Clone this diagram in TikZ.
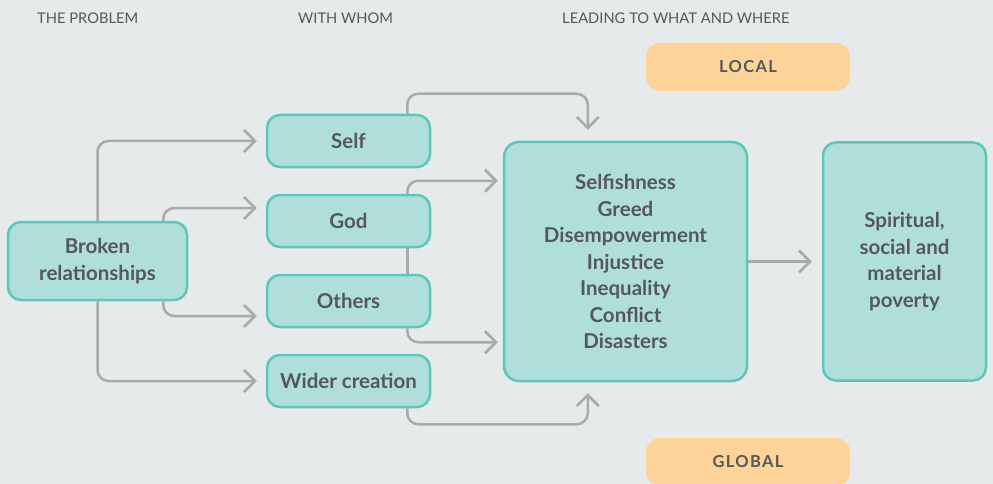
\documentclass[tikz,border=0pt]{standalone}
\usepackage{fontspec}
\setmainfont{Lato}
\usetikzlibrary{arrows.meta,backgrounds}
\definecolor{bgback}{RGB}{230,234,234}
\definecolor{boxfill}{RGB}{176,223,219}
\definecolor{boxline}{RGB}{92,198,187}
\definecolor{placefill}{RGB}{253,211,154}
\definecolor{txt}{RGB}{85,87,89}
\definecolor{linkgray}{RGB}{170,170,170}

\begin{document}
\begin{tikzpicture}[x=1pt,y=-1pt,
  box/.style={draw=boxline, fill=boxfill, line width=2.5pt, rounded corners=13pt, text=txt, align=center, inner sep=0pt, font=\bfseries\fontsize{20.5}{26.5}\selectfont},
  place/.style={fill=placefill, rounded corners=14pt, text=txt, minimum width=204pt, minimum height=48pt, font=\bfseries\fontsize{16.5}{18}\selectfont\addfontfeatures{LetterSpace=8}},
  head/.style={text=txt, anchor=base west, inner sep=0pt, font=\fontsize{14.7}{17}\selectfont},
  link/.style={draw=linkgray, line width=2.5pt, rounded corners=11pt},
  arr/.style={link, -{Straight Barb[length=11pt,width=22pt,line width=2.5pt]}}]

\useasboundingbox (0,0) rectangle (993,484);

% column heads
\node[head] (hproblem) at (37,23.5) {THE PROBLEM};
\node[head] (hwhom) at (298,23.5) {WITH WHOM};
\node[head] (hwhere) at (562,23.5) {LEADING TO WHAT AND WHERE};

% boxes
\node[box, minimum width=179pt, minimum height=78pt] (broken) at (97.5,261) {Broken\\relationships};
\node[box, minimum width=163pt, minimum height=52pt] (self) at (348.5,141) {Self};
\node[box, minimum width=163pt, minimum height=52pt] (god) at (348.5,221) {God};
\node[box, minimum width=163pt, minimum height=52pt] (others) at (348.5,301) {Others};
\node[box, minimum width=163pt, minimum height=52pt] (wider) at (348.5,381) {Wider creation};
\node[box, minimum width=243pt, minimum height=239pt, rounded corners=15pt] (effects) at (625.5,261.5)
  {Selfishness\\Greed\\Disempowerment\\Injustice\\Inequality\\Conflict\\Disasters};
\node[box, minimum width=163pt, minimum height=238pt] (poverty) at (904.5,261.5)
  {Spiritual,\\social and\\material\\poverty};
\node[place] (local) at (748,67) {LOCAL};
\node[place] (global) at (748,462) {GLOBAL};

\begin{scope}[on background layer]
\fill[bgback] (0,0) rectangle (993,484);

% problem to whom
\draw[arr] (broken.north) |- ([xshift=-9pt]self.west);
\draw[arr] ([xshift=-25pt]broken.north east) |- ([xshift=-9pt,yshift=13pt]god.west);
\draw[arr] ([xshift=-25pt]broken.south east) |- ([xshift=-9pt,yshift=-15pt]others.west);
\draw[arr] (broken.south) |- ([xshift=-9pt]wider.west);

% whom to what
\draw[arr] ([xshift=-24pt]self.north east) |- ([xshift=85pt,yshift=47pt]effects.north west)
  -- ([xshift=85pt,yshift=11pt]effects.north west);
\draw[arr] ([xshift=-24pt]god.north east) |- ([xshift=-5pt,yshift=-40pt]effects.north west);
\draw[link] ([xshift=-24pt]god.south east) -- ([xshift=-24pt]others.north east);
\draw[arr] ([xshift=-24pt]others.south east) |- ([xshift=-5pt,yshift=40pt]effects.south west);
\draw[arr] ([xshift=-24pt]wider.south east) |- ([xshift=85pt,yshift=-42pt]effects.south west)
  -- ([xshift=85pt,yshift=-11pt]effects.south west);

% what to where
\draw[arr] (effects.east) -- ([xshift=-10pt]poverty.west);
\end{scope}
\end{tikzpicture}
\end{document}
